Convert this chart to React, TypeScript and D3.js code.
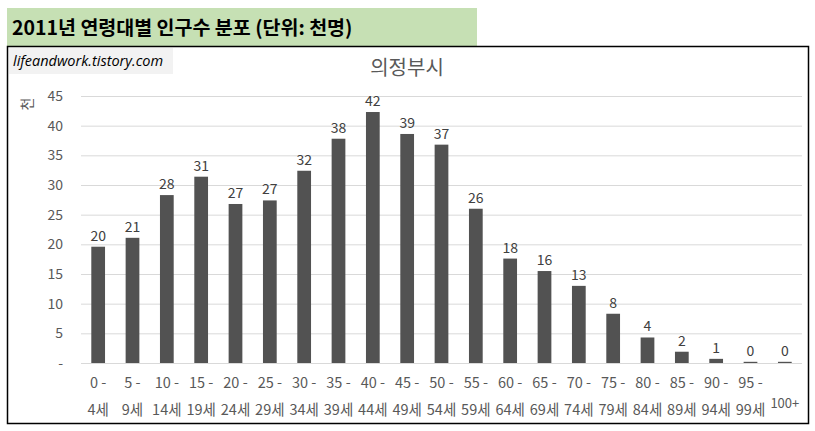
import React, { useEffect, useRef } from 'react';
import * as d3 from 'd3';

const ageStart: string[] = ['0 -', '5 -', '10 -', '15 -', '20 -', '25 -', '30 -', '35 -', '40 -', '45 -', '50 -', '55 -', '60 -', '65 -', '70 -', '75 -', '80 -', '85 -', '90 -', '95 -', ''];
const ageEnd: string[] = ['4세', '9세', '14세', '19세', '24세', '29세', '34세', '39세', '44세', '49세', '54세', '59세', '64세', '69세', '74세', '79세', '84세', '89세', '94세', '99세', '100+'];
// population in thousands
const population: number[] = [19.6, 21.1, 28.3, 31.4, 26.8, 27.4, 32.4, 37.8, 42.3, 38.6, 36.8, 26.0, 17.6, 15.5, 13.0, 8.3, 4.3, 1.9, 0.7, 0.2, 0.2];
const yTicks: number[] = [0, 5, 10, 15, 20, 25, 30, 35, 40, 45];

const FONT = '"Noto Sans CJK KR", "Noto Sans", sans-serif';

const App: React.FC = () => {
    const ref = useRef<SVGSVGElement | null>(null);

    useEffect(() => {
        if (!ref.current) return;
        const width = 815;
        const height = 431;
        const svg = d3.select(ref.current);
        svg.selectAll('*').remove();
        svg.attr('width', width).attr('height', height);

        // header box
        svg.append('rect')
            .attr('x', 7).attr('y', 8).attr('width', 470).attr('height', 38)
            .attr('fill', '#C6E0B4');
        svg.append('text')
            .attr('x', 12).attr('y', 35)
            .style('font-family', FONT).style('font-size', '19.5px').style('font-weight', 'bold')
            .attr('fill', '#000')
            .text('2011년 연령대별 인구수 분포 (단위: 천명)');

        // chart frame
        svg.append('rect')
            .attr('x', 7.5).attr('y', 46.5).attr('width', 801).attr('height', 377)
            .attr('fill', '#fff').attr('stroke', '#000').attr('stroke-width', 1.5);

        // watermark
        svg.append('rect')
            .attr('x', 9).attr('y', 48).attr('width', 164).attr('height', 26)
            .attr('fill', '#F2F2F2');
        svg.append('text')
            .attr('x', 13).attr('y', 66)
            .style('font-family', '"Open Sans", sans-serif').style('font-size', '14.5px').style('font-style', 'italic')
            .attr('fill', '#000')
            .text('lifeandwork.tistory.com');

        svg.append('text')
            .attr('x', 407).attr('y', 75).attr('text-anchor', 'middle')
            .style('font-family', FONT).style('font-size', '20px')
            .attr('fill', '#595959')
            .text('의정부시');

        const x = d3.scaleBand<number>()
            .domain(d3.range(population.length))
            .range([81, 802])
            .paddingInner(0.6)
            .paddingOuter(0.3);

        const y = d3.scaleLinear().domain([0, 45]).range([363, 96]);

        // gridlines
        svg.append('g').selectAll('line').data(yTicks).enter().append('line')
            .attr('x1', 81).attr('x2', 802)
            .attr('y1', d => y(d) + 0.5).attr('y2', d => y(d) + 0.5)
            .attr('stroke', '#D9D9D9').attr('stroke-width', 1);

        // y labels
        svg.append('g').selectAll('text').data(yTicks).enter().append('text')
            .attr('x', 63).attr('y', d => y(d) + 5)
            .attr('text-anchor', 'end')
            .style('font-family', FONT).style('font-size', '14px')
            .attr('fill', '#595959')
            .text(d => (d === 0 ? '-' : String(d)));

        svg.append('text')
            .attr('transform', 'translate(32, 104) rotate(-90)')
            .attr('text-anchor', 'middle')
            .style('font-family', FONT).style('font-size', '14px')
            .attr('fill', '#595959')
            .text('천');

        // bars
        svg.append('g').selectAll('rect').data(population).enter().append('rect')
            .attr('x', (d, i) => x(i)!)
            .attr('y', d => y(d))
            .attr('width', x.bandwidth())
            .attr('height', d => y(0) - y(d))
            .attr('fill', '#525252');

        // data labels
        svg.append('g').selectAll('text').data(population).enter().append('text')
            .attr('x', (d, i) => x(i)! + x.bandwidth() / 2)
            .attr('y', d => y(d) - 6)
            .attr('text-anchor', 'middle')
            .style('font-family', FONT).style('font-size', '14px')
            .attr('fill', '#404040')
            .text(d => String(Math.round(d)));

        // category labels
        const cat = svg.append('g').selectAll('g').data(population).enter().append('g');
        cat.append('text')
            .attr('x', (d, i) => x(i)! + x.bandwidth() / 2)
            .attr('y', 388)
            .attr('text-anchor', 'middle')
            .style('font-family', FONT).style('font-size', '14.5px')
            .attr('fill', '#595959')
            .text((d, i) => ageStart[i]);
        cat.append('text')
            .attr('x', (d, i) => x(i)! + x.bandwidth() / 2)
            .attr('y', (d, i) => (ageStart[i] ? 415 : 408))
            .attr('text-anchor', 'middle')
            .style('font-family', FONT).style('font-size', (d, i) => (ageStart[i] ? '14.5px' : '13px'))
            .attr('fill', '#595959')
            .text((d, i) => ageEnd[i]);
    }, []);

    return (
        <div style={{ position: 'absolute', left: 0, top: 0 }}>
            <svg ref={ref} />
        </div>
    );
};

export default App;
